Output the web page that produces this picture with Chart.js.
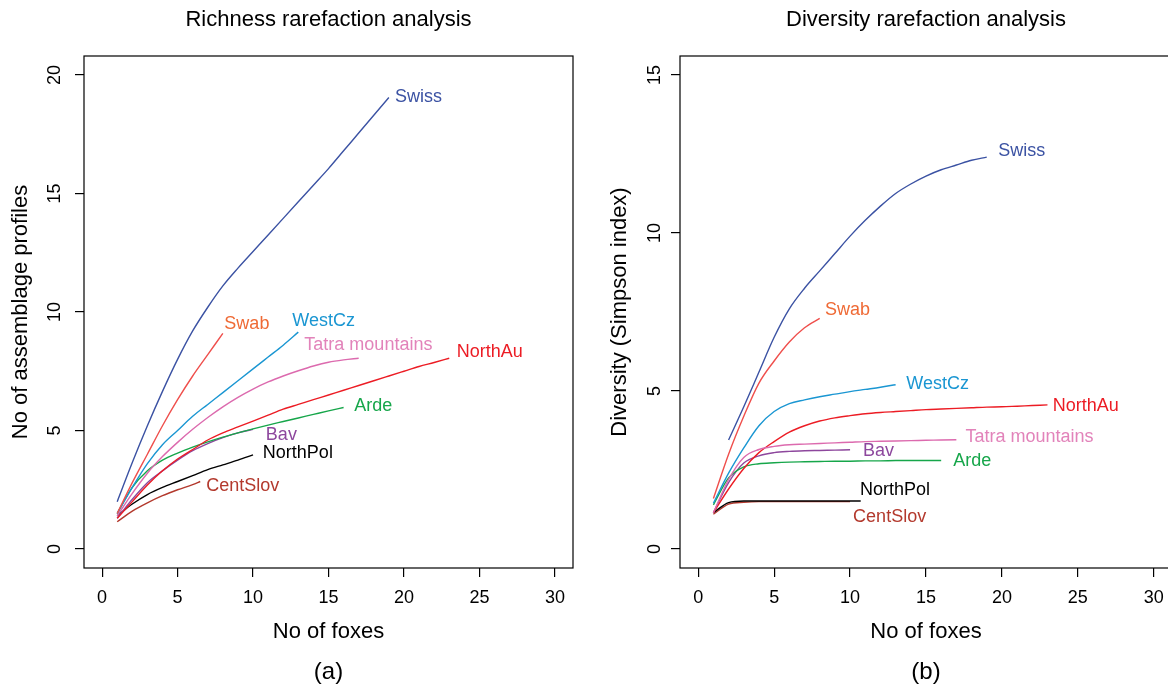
<!DOCTYPE html>
<html>
<head>
<meta charset="utf-8">
<script src="https://cdn.jsdelivr.net/npm/chart.js@4.4.1/dist/chart.umd.min.js"></script>
<style>
  html, body { margin: 0; padding: 0; background: #fff; overflow: hidden; }
  #wrap { position: relative; width: 1168px; height: 691px; overflow: hidden; background: #fff; }
  canvas { position: absolute; top: 0; }
  #richness { left: 0; }
  #diversity { left: 596px; }
</style>
</head>
<body>
<div id="wrap">
  <canvas id="richness" width="600" height="691"></canvas>
  <canvas id="diversity" width="600" height="691"></canvas>
</div>
<script>
// ----- DATA -----
const foxes = [1, 2, 3, 4, 5, 6, 7, 8, 9, 10, 11, 12, 13, 14, 15, 16, 17, 18, 19, 20, 21, 22, 23];
const xTicks = [0, 5, 10, 15, 20, 25, 30];
const richTicks = [0, 5, 10, 15, 20];
const divTicks = [0, 5, 10, 15];

const regions = ["Swiss", "Swab", "WestCz", "Tatra mountains", "NorthAu", "Arde", "Bav", "NorthPol", "CentSlov"];
const lineColors = ["#3b52a3", "#ef4f4c", "#1a96d2", "#dc6aae", "#ec1c24", "#16a64a", "#8d479d", "#000000", "#b3392d"];
const labelColors = ["#3b52a3", "#ef6a35", "#1a96d2", "#e283ba", "#ec1c24", "#16a64a", "#8d479d", "#000000", "#b3392d"];

// richness (no of assemblage profiles)
const swissRich = [2.0, 3.65, 5.2, 6.65, 8.0, 9.2, 10.2, 11.1, 11.85, 12.55, 13.25, 13.95, 14.65, 15.35, 16.05, 16.8, 17.55, 18.3, 19.05];
const swabRich = [1.5, 2.8, 4.0, 5.2, 6.3, 7.3, 8.2, 9.1];
const westCzRich = [1.5, 2.6, 3.6, 4.4, 5.0, 5.6, 6.1, 6.6, 7.1, 7.6, 8.1, 8.6, 9.15];
const tatraRich = [1.4, 2.35, 3.2, 3.9, 4.5, 5.05, 5.55, 6.0, 6.4, 6.75, 7.05, 7.3, 7.52, 7.72, 7.88, 7.98, 8.05];
const northAuRich = [1.3, 2.0, 2.7, 3.3, 3.8, 4.2, 4.6, 4.9, 5.15, 5.4, 5.65, 5.9, 6.1, 6.3, 6.5, 6.7, 6.9, 7.1, 7.3, 7.5, 7.7, 7.87, 8.05];
const ardeRich = [1.5, 2.6, 3.3, 3.75, 4.05, 4.3, 4.52, 4.72, 4.9, 5.07, 5.23, 5.38, 5.53, 5.68, 5.83, 5.97];
const bavRich = [1.3, 2.1, 2.8, 3.3, 3.75, 4.15, 4.45, 4.7, 4.9, 5.05];
const northPolRich = [1.4, 1.9, 2.3, 2.6, 2.85, 3.1, 3.35, 3.55, 3.75, 3.97];
const centSlovRich = [1.15, 1.6, 1.95, 2.25, 2.5, 2.72, 2.85];
const centSlovRichFoxes = [1, 2, 3, 4, 5, 6, 6.5];

// diversity (Simpson index)
const swissDiv = [3.45, 4.5, 5.6, 6.7, 7.6, 8.25, 8.8, 9.35, 9.9, 10.4, 10.85, 11.25, 11.55, 11.8, 12.0, 12.15, 12.3, 12.4];
const swissDivFoxes = [2, 3, 4, 5, 6, 7, 8, 9, 10, 11, 12, 13, 14, 15, 16, 17, 18, 19];
const swabDiv = [1.6, 3.0, 4.2, 5.25, 5.95, 6.55, 7.0, 7.3];
const westCzDiv = [1.45, 2.4, 3.2, 3.9, 4.35, 4.6, 4.72, 4.82, 4.9, 4.98, 5.05, 5.12, 5.2];
const tatraDiv = [1.15, 2.2, 2.9, 3.15, 3.25, 3.3, 3.32, 3.34, 3.36, 3.38, 3.4, 3.41, 3.42, 3.43, 3.44, 3.45, 3.46];
const northAuDiv = [1.15, 1.9, 2.55, 3.05, 3.4, 3.7, 3.9, 4.05, 4.15, 4.22, 4.28, 4.32, 4.35, 4.38, 4.41, 4.43, 4.45, 4.47, 4.49, 4.5, 4.52, 4.54, 4.56];
const ardeDiv = [1.4, 2.25, 2.6, 2.7, 2.73, 2.75, 2.76, 2.77, 2.78, 2.78, 2.79, 2.79, 2.8, 2.8, 2.8, 2.8];
const bavDiv = [1.15, 2.1, 2.72, 2.95, 3.05, 3.09, 3.11, 3.12, 3.13, 3.14];
const northPolDiv = [1.15, 1.47, 1.52, 1.52, 1.52, 1.52, 1.52, 1.52, 1.52, 1.52, 1.52];
const northPolDivFoxes = [1, 2, 3, 4, 5, 6, 7, 8, 9, 10, 10.7];
const centSlovDiv = [1.1, 1.42, 1.48, 1.5, 1.5, 1.5, 1.5, 1.5, 1.5, 1.5];

// label anchors (data coordinates)
const richLabelX = [19.4, 8.1, 12.6, 13.4, 23.5, 16.7, 10.85, 10.65, 6.9];
const richLabelY = [19.07, 9.5, 9.6, 8.6, 8.3, 6.05, 4.82, 4.06, 2.66];
const divLabelX = [19.75, 8.35, 13.7, 17.6, 23.35, 16.8, 10.85, 10.65, 10.2];
const divLabelY = [12.6, 7.55, 5.22, 3.53, 4.52, 2.77, 3.09, 1.88, 1.02];

// ----- CHART -----
const FONT = '"Liberation Sans", Arial, Helvetica, sans-serif';
Chart.defaults.font.family = FONT;
Chart.defaults.color = "#000";

function toPoints(xs, ys) {
  return ys.map((y, i) => ({ x: xs[i], y }));
}

const boxPlugin = {
  id: "box",
  afterDraw(chart) {
    const a = chart.chartArea;
    const ctx = chart.ctx;
    ctx.save();
    ctx.strokeStyle = "#000";
    ctx.lineWidth = 1.2;
    ctx.strokeRect(a.left, a.top, a.right - a.left, a.bottom - a.top);
    ctx.restore();
  }
};

const labelPlugin = {
  id: "seriesLabels",
  afterDatasetsDraw(chart, args, opts) {
    const ctx = chart.ctx;
    const sx = chart.scales.x, sy = chart.scales.y;
    ctx.save();
    ctx.font = "18px " + FONT;
    ctx.textAlign = "left";
    ctx.textBaseline = "middle";
    regions.forEach((name, i) => {
      ctx.fillStyle = labelColors[i];
      ctx.fillText(name, sx.getPixelForValue(opts.xs[i]), sy.getPixelForValue(opts.ys[i]));
    });
    ctx.restore();
  }
};

function makeChart(id, cfg) {
  const datasets = cfg.series.map((ys, i) => ({
    label: regions[i],
    data: toPoints(cfg.foxes[i], ys),
    borderColor: lineColors[i],
    borderWidth: 1.4,
    pointRadius: 0,
    fill: false,
    cubicInterpolationMode: "monotone"
  }));

  return new Chart(document.getElementById(id), {
    type: "line",
    data: { datasets },
    plugins: [boxPlugin, labelPlugin],
    options: {
      responsive: false,
      animation: false,
      devicePixelRatio: 1,
      layout: { padding: { left: 0, right: cfg.padRight, top: 0, bottom: 0 } },
      plugins: {
        legend: { display: false },
        tooltip: { enabled: false },
        title: {
          display: true, text: cfg.title, fullSize: false,
          font: { size: 22, weight: "normal" }, color: "#000",
          padding: { top: 6.8, bottom: 22.8 }
        },
        subtitle: {
          display: true, text: cfg.tag, position: "bottom", fullSize: false,
          font: { size: 24, weight: "normal" }, color: "#000",
          padding: { top: 0, bottom: 4.6 }
        },
        seriesLabels: { xs: cfg.labelX, ys: cfg.labelY }
      },
      scales: {
        x: {
          type: "linear", min: -1.2, max: 31.2,
          afterBuildTicks: s => { s.ticks = xTicks.map(v => ({ value: v })); },
          afterFit: s => { s.height = 89.6; },
          grid: { drawOnChartArea: false, drawTicks: true, tickLength: 9, color: "#000", lineWidth: 1.2 },
          border: { display: false },
          ticks: { font: { size: 18 }, padding: 10, maxRotation: 0, autoSkip: false, color: "#000" },
          title: { display: true, text: "No of foxes", font: { size: 22 }, color: "#000", padding: { top: 0, bottom: 12.4 } }
        },
        y: {
          type: "linear", min: cfg.yMin, max: cfg.yMax,
          afterBuildTicks: s => { s.ticks = cfg.yTicks.map(v => ({ value: v })); },
          afterFit: s => { s.width = 84; },
          grid: { drawOnChartArea: false, drawTicks: true, tickLength: 9, color: "#000", lineWidth: 1.2 },
          border: { display: false },
          ticks: { font: { size: 18 }, padding: cfg.tickPad, minRotation: 90, maxRotation: 90, crossAlign: "center", autoSkip: false, color: "#000" },
          title: { display: true, text: cfg.yTitle, font: { size: 22 }, color: "#000", padding: { top: cfg.titlePad, bottom: 0 } }
        }
      }
    }
  });
}

makeChart("richness", {
  title: "Richness rarefaction analysis",
  tag: "(a)",
  yTitle: "No of assemblage profiles",
  yMin: -0.8, yMax: 20.8, yTicks: richTicks,
  padRight: 27, tickPad: 10, titlePad: 8,
  series: [swissRich, swabRich, westCzRich, tatraRich, northAuRich, ardeRich, bavRich, northPolRich, centSlovRich],
  foxes: [foxes, foxes, foxes, foxes, foxes, foxes, foxes, foxes, centSlovRichFoxes],
  labelX: richLabelX, labelY: richLabelY
});

makeChart("diversity", {
  title: "Diversity rarefaction analysis",
  tag: "(b)",
  yTitle: "Diversity (Simpson index)",
  yMin: -0.6, yMax: 15.6, yTicks: divTicks,
  padRight: 24, tickPad: 6, titlePad: 11,
  series: [swissDiv, swabDiv, westCzDiv, tatraDiv, northAuDiv, ardeDiv, bavDiv, northPolDiv, centSlovDiv],
  foxes: [swissDivFoxes, foxes, foxes, foxes, foxes, foxes, foxes, northPolDivFoxes, foxes],
  labelX: divLabelX, labelY: divLabelY
});
</script>
</body>
</html>
